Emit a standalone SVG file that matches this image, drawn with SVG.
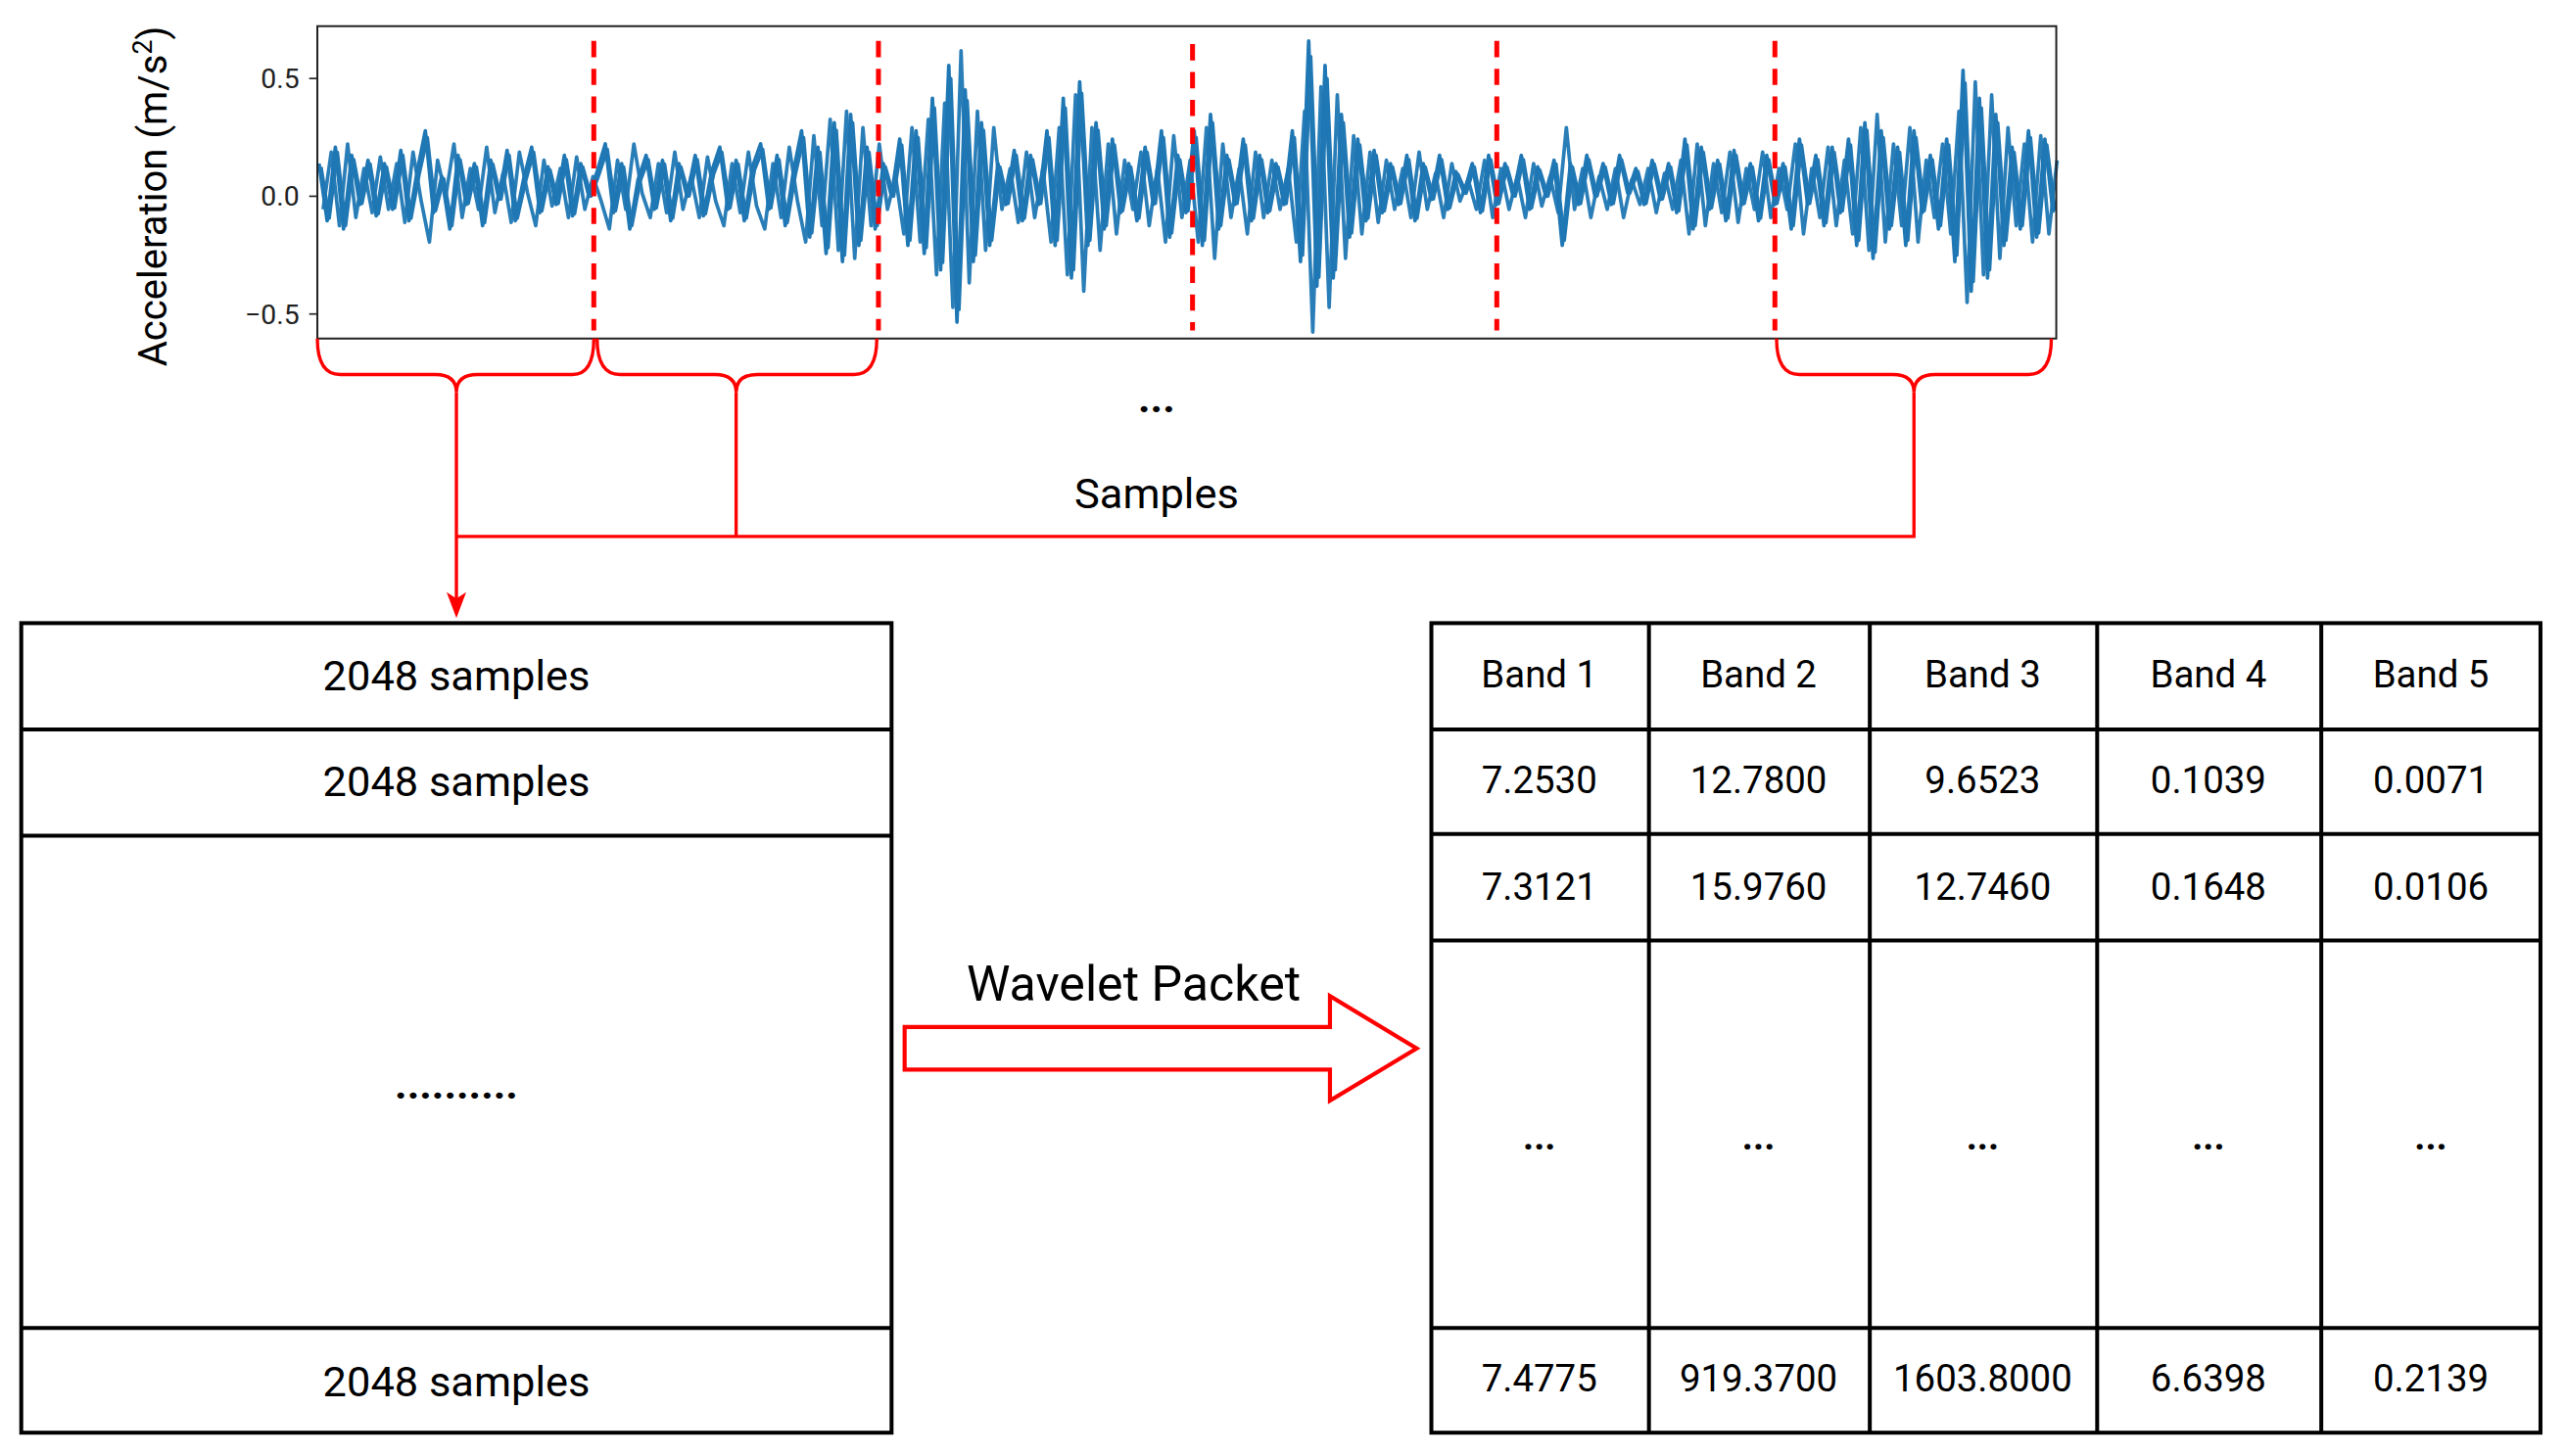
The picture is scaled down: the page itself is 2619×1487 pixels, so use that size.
<svg xmlns="http://www.w3.org/2000/svg" width="2619" height="1487" viewBox="0 0 2619 1487">
<style>
text{font-family:Roboto,"Liberation Sans",sans-serif;fill:#000}
.tb{fill:#fff;stroke:#000;stroke-width:2.4}
.ln{stroke:#000;stroke-width:2.4}
.red{fill:none;stroke:#f00;stroke-width:2}
.cell{font-size:23px;text-anchor:middle}
.big{font-size:26px;text-anchor:middle}
.tick{font-size:17px;text-anchor:end;fill:#222}
.sig{fill:none;stroke:#1f77b4;stroke-width:2.2;stroke-linejoin:round}
</style>
<defs>
<polyline id="sigpts" class="sig" points="195,100 200,135 205,90 210,140 215,95 220,125 225,98 230,132 235,100 240,128 245,92 250,135 255,105 260,80 265,130 270,108 275,140 280,95 285,125 290,100 295,138 300,98 305,122 310,92 315,135 320,110 325,90 330,130 335,102 340,125 345,95 350,132 355,100 360,120 365,105 370,88 375,130 380,100 385,140 390,110 395,95 400,128 405,98 410,135 415,100 420,120 425,95 430,132 435,105 440,90 445,128 450,98 455,135 460,102 465,88 470,128 475,95 480,138 485,105 490,80 495,145 500,90 505,155 510,75 515,160 520,70 525,150 530,90 535,140 540,100 545,120 550,85 555,150 560,80 565,155 570,60 575,165 580,40 585,197 590,55 595,160 600,75 605,150 610,100 615,125 620,92 625,135 630,95 635,125 640,80 645,150 650,60 655,170 660,50 665,150 670,75 675,140 680,85 685,130 690,100 695,135 700,90 705,125 710,80 715,145 720,95 725,130 730,80 735,150 740,70 745,140 750,95 755,125 760,85 765,135 770,95 775,130 780,100 785,125 790,80 795,160 800,25 805,175 810,40 815,170 820,70 825,145 830,85 835,135 840,92 845,130 850,100 855,125 860,95 865,135 870,100 875,122 880,95 885,128 890,105 895,118 900,100 905,130 910,95 915,125 920,100 925,120 930,95 935,128 940,102 945,120 950,98 955,150 960,100 965,125 970,95 975,120 980,100 985,125 990,95 995,118 1000,103 1005,125 1010,98 1015,122 1020,100 1025,130 1030,85 1035,140 1040,90 1045,128 1050,98 1055,135 1060,92 1065,125 1070,100 1075,135 1080,95 1085,125 1090,100 1095,140 1100,85 1105,125 1110,95 1115,138 1120,90 1125,130 1130,85 1135,150 1140,75 1145,158 1150,80 1155,140 1160,90 1165,150 1170,80 1175,130 1180,95 1185,140 1190,85 1195,160 1200,43 1205,178 1210,60 1215,170 1220,70 1225,150 1230,90 1235,140 1240,80 1245,145 1250,85 1255,130"/>
</defs>
<rect width="2619" height="1487" fill="#fff"/>
<g transform="scale(1.6703)">
<g id="plot">
<use href="#sigpts"/>
<use href="#sigpts" transform="translate(2.5,228) scale(1,-1)" opacity="0.95"/>
<use href="#sigpts" transform="translate(1.2,12) scale(1,0.9)"/>
<rect x="194" y="16" width="1063" height="191" fill="#fff" fill-opacity="0" stroke="#222" stroke-width="1.2"/>
<g stroke="#222" stroke-width="1"><line x1="189" y1="48" x2="194" y2="48"/><line x1="189" y1="120" x2="194" y2="120"/><line x1="189" y1="192" x2="194" y2="192"/></g>
<text class="tick" x="183" y="54">0.5</text>
<text class="tick" x="183" y="126">0.0</text>
<text class="tick" x="183" y="198">−0.5</text>
<text transform="translate(102,120) rotate(-90)" text-anchor="middle" font-size="24" fill="#222">Acceleration (m/s<tspan font-size="16" dy="-9">2</tspan><tspan dy="9">)</tspan></text>
<g stroke="#f00" stroke-width="3" stroke-dasharray="10,7">
<line x1="363" y1="25" x2="363" y2="202"/><line x1="537" y1="25" x2="537" y2="202"/><line x1="729" y1="27" x2="729" y2="202"/><line x1="915" y1="25" x2="915" y2="202"/><line x1="1085" y1="25" x2="1085" y2="202"/>
</g>
</g>
<g id="connectors">
<path class="red" d="M194,207 Q194,229 208,229 L266,229 Q279,229 279,240 Q279,229 292,229 L350,229 Q363,229 363,207"/>
<path class="red" d="M365,207 Q365,229 379,229 L437,229 Q450,229 450,240 Q450,229 463,229 L522,229 Q536,229 536,207"/>
<path class="red" d="M1086,207 Q1086,229 1100,229 L1157,229 Q1170,229 1170,240 Q1170,229 1183,229 L1240,229 Q1254,229 1254,207"/>
<polyline class="red" points="450,240 450,328"/>
<polyline class="red" points="1170,240 1170,328 279,328"/>
<polyline class="red" points="279,240 279,368"/>
<path d="M273,362 L279,378 L285,362 L279,366 Z" fill="#f00"/>
<path d="M553,628 L813,628 L813,609 L866,641 L813,673 L813,654 L553,654 Z" fill="none" stroke="#f00" stroke-width="2.5"/>
</g>
<text x="707" y="252" class="big" font-weight="bold">...</text>
<text x="707" y="311" class="big">Samples</text>
<text x="693" y="612" font-size="30" text-anchor="middle">Wavelet Packet</text>
<g id="left-table">
<rect class="tb" x="13" y="381" width="532" height="495"/>
<line class="ln" x1="13" y1="446" x2="545" y2="446"/>
<line class="ln" x1="13" y1="511" x2="545" y2="511"/>
<line class="ln" x1="13" y1="812" x2="545" y2="812"/>
<text class="big" x="279" y="422">2048 samples</text>
<text class="big" x="279" y="487">2048 samples</text>
<text class="big" x="279" y="672" font-weight="bold">..........</text>
<text class="big" x="279" y="854">2048 samples</text>
</g>
<g id="right-table">
<rect class="tb" x="875" y="381" width="678" height="495"/>
<g class="ln">
<line x1="875" y1="446" x2="1553" y2="446"/><line x1="875" y1="510" x2="1553" y2="510"/><line x1="875" y1="575" x2="1553" y2="575"/><line x1="875" y1="812" x2="1553" y2="812"/>
<line x1="1008" y1="381" x2="1008" y2="876"/><line x1="1143" y1="381" x2="1143" y2="876"/><line x1="1282" y1="381" x2="1282" y2="876"/><line x1="1419" y1="381" x2="1419" y2="876"/>
</g>
<text class="cell" x="941" y="420">Band 1</text><text class="cell" x="1075" y="420">Band 2</text><text class="cell" x="1212" y="420">Band 3</text><text class="cell" x="1350" y="420">Band 4</text><text class="cell" x="1486" y="420">Band 5</text>
<text class="cell" x="941" y="485">7.2530</text><text class="cell" x="1075" y="485">12.7800</text><text class="cell" x="1212" y="485">9.6523</text><text class="cell" x="1350" y="485">0.1039</text><text class="cell" x="1486" y="485">0.0071</text>
<text class="cell" x="941" y="550">7.3121</text><text class="cell" x="1075" y="550">15.9760</text><text class="cell" x="1212" y="550">12.7460</text><text class="cell" x="1350" y="550">0.1648</text><text class="cell" x="1486" y="550">0.0106</text>
<g font-weight="bold"><text class="cell" x="941" y="703">...</text><text class="cell" x="1075" y="703">...</text><text class="cell" x="1212" y="703">...</text><text class="cell" x="1350" y="703">...</text><text class="cell" x="1486" y="703">...</text></g>
<text class="cell" x="941" y="851">7.4775</text><text class="cell" x="1075" y="851">919.3700</text><text class="cell" x="1212" y="851">1603.8000</text><text class="cell" x="1350" y="851">6.6398</text><text class="cell" x="1486" y="851">0.2139</text>
</g>
</g>
</svg>
